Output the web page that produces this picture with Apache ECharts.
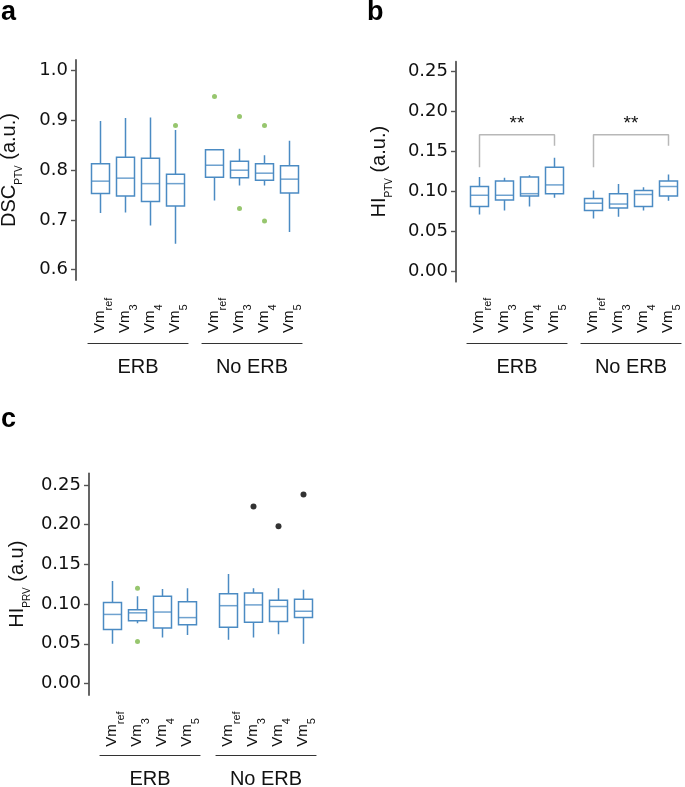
<!DOCTYPE html>
<html><head><meta charset="utf-8">
<script src="https://cdn.jsdelivr.net/npm/echarts@6/dist/echarts.min.js"></script>
<style>html,body{margin:0;padding:0;background:#fff}#c{width:685px;height:787px}</style>
</head><body><div id="c"></div>
<script>
// ---------- data ----------
const methods = ['Vm_ref', 'Vm_3', 'Vm_4', 'Vm_5'];
const groups = ['ERB', 'No ERB'];
const dscTicks = [0.6, 0.7, 0.8, 0.9, 1.0];
const hiTicks = [0.00, 0.05, 0.10, 0.15, 0.20, 0.25];

// box values: [min, Q1, median, Q3, max]
const dscErb = [[0.714, 0.753, 0.778, 0.813, 0.899], [0.715, 0.748, 0.784, 0.826, 0.905], [0.689, 0.737, 0.773, 0.824, 0.906], [0.652, 0.728, 0.773, 0.792, 0.881]];
const dscNoErb = [[0.739, 0.786, 0.810, 0.841, 0.841], [0.769, 0.785, 0.800, 0.818, 0.843], [0.769, 0.780, 0.794, 0.813, 0.830], [0.676, 0.754, 0.782, 0.809, 0.859]];
const dscErbOut = [[3, 0.890]];
const dscNoErbOut = [[0, 0.948], [1, 0.908], [1, 0.723], [2, 0.890], [2, 0.698]];

const hiPtvErb = [[0.071, 0.081, 0.095, 0.106, 0.118], [0.076, 0.089, 0.095, 0.113, 0.117], [0.081, 0.094, 0.097, 0.118, 0.120], [0.092, 0.097, 0.108, 0.130, 0.142]];
const hiPtvNoErb = [[0.066, 0.076, 0.085, 0.091, 0.101], [0.068, 0.079, 0.084, 0.097, 0.109], [0.076, 0.081, 0.096, 0.101, 0.105], [0.088, 0.094, 0.106, 0.113, 0.121]];
// significance bracket: [left leg bottom, bar height, right leg bottom]
const hiPtvBrackets = [[0.130, 0.171, 0.157], [0.130, 0.171, 0.157]];
const sigLabel = '**';

const hiPrvErb = [[0.050, 0.068, 0.087, 0.102, 0.129], [0.076, 0.079, 0.089, 0.093, 0.110], [0.058, 0.070, 0.090, 0.110, 0.119], [0.061, 0.074, 0.083, 0.103, 0.120]];
const hiPrvNoErb = [[0.055, 0.071, 0.098, 0.113, 0.138], [0.058, 0.077, 0.099, 0.114, 0.120], [0.062, 0.078, 0.097, 0.105, 0.120], [0.050, 0.083, 0.091, 0.106, 0.118]];
const hiPrvErbOut = [[1, 0.120], [1, 0.053]];
const hiPrvNoErbOut = [[1, 0.223], [2, 0.198], [3, 0.238]];

// ---------- styles ----------
const ARIAL = '"Liberation Sans", Arial, Helvetica, sans-serif';
const DEJA = '"DejaVu Sans", "Liberation Sans", sans-serif';
const BLUE = '#4b8bc3';
const GREEN = '#7db84a';
const AXIS = '#555';

const panels = [
  { top: 60, height: 220, min: 0.5793, max: 1.0215, ticks: dscTicks, dec: 1, axisX: 76, lefts: [88, 202],
    underline: 343.3, labelBottom: 333, nameGap: 54, groupGap: 14,
    title: '{t|DSC}{s|PTV}{t| (a.u.)}', data: [dscErb, dscNoErb], out: [dscErbOut, dscNoErbOut], black: [[], []], brackets: null },
  { top: 61.7, height: 220, min: -0.01342, max: 0.26254, ticks: hiTicks, dec: 2, axisX: 456, lefts: [467, 581],
    underline: 343.3, labelBottom: 333, nameGap: 64, groupGap: 14,
    title: '{t|HI}{s|PTV}{t| (a.u.)}', data: [hiPtvErb, hiPtvNoErb], out: [[], []], black: [[], []], brackets: hiPtvBrackets },
  { top: 473.3, height: 221.7, min: -0.01448, max: 0.26474, ticks: hiTicks, dec: 2, axisX: 89, lefts: [100, 216],
    underline: 755.7, labelBottom: 746.7, nameGap: 59, groupGap: 14,
    title: '{t|HI}{s|PRV}{t| (a.u)}', data: [hiPrvErb, hiPrvNoErb], out: [hiPrvErbOut, []], black: [[], hiPrvNoErbOut], brackets: null }
];

const grid = [], xAxis = [], yAxis = [], series = [];
let gi = 0;
panels.forEach(p => {
  for (let g = 0; g < 2; g++) {
    grid.push({ left: p.lefts[g], width: 100, top: p.top, height: p.height, containLabel: false, outerBoundsMode: 'none' });
    xAxis.push({
      type: 'category', gridIndex: gi, data: methods, position: 'bottom',
      offset: p.underline - (p.top + p.height),
      axisLine: { show: true, onZero: false, lineStyle: { color: '#333', width: 1.2 } },
      axisTick: { show: false },
      splitLine: { show: false },
      axisLabel: {
        rotate: 90, align: 'left', margin: -(p.underline - p.labelBottom), interval: 0,
        formatter: v => { const s = v.split('_'); return '{v|' + s[0] + '}{s|' + s[1] + '}'; },
        rich: {
          v: { fontSize: 15, fontFamily: ARIAL, color: '#111', lineHeight: 16, verticalAlign: 'top' },
          s: { fontSize: 11, fontFamily: ARIAL, color: '#111', lineHeight: 11, padding: [11, 0, 0, 0], verticalAlign: 'top' }
        }
      },
      name: groups[g], nameLocation: 'middle', nameGap: p.groupGap,
      nameTextStyle: { fontSize: 20, fontFamily: ARIAL, color: '#111' }
    });
    if (g === 0) {
      yAxis.push({
        type: 'value', gridIndex: gi, min: p.min, max: p.max, offset: p.lefts[0] - p.axisX,
        axisLine: { show: true, onZero: false, lineStyle: { color: AXIS, width: 1.8 } },
        axisTick: { show: true, length: 5, customValues: p.ticks, lineStyle: { color: AXIS, width: 1.4 } },
        axisLabel: { customValues: p.ticks, formatter: v => v.toFixed(p.dec), fontSize: 18, fontFamily: DEJA, color: '#111', margin: 8 },
        splitLine: { show: false },
        name: p.title, nameLocation: 'middle', nameRotate: 90, nameGap: p.nameGap,
        nameTextStyle: {
          rich: {
            t: { fontSize: 20, fontFamily: ARIAL, color: '#111', lineHeight: 23, verticalAlign: 'top' },
            s: { fontSize: 10, fontFamily: ARIAL, color: '#111', lineHeight: 10, padding: [15, 0, 0, 0], verticalAlign: 'top' }
          }
        }
      });
    } else {
      yAxis.push({ type: 'value', gridIndex: gi, min: p.min, max: p.max, show: false, splitLine: { show: false } });
    }
    const d = p.data[g];
    series.push({
      type: 'candlestick', xAxisIndex: gi, yAxisIndex: gi, barWidth: 19, silent: true,
      data: d.map(r => [r[1], r[3], r[0], r[4]]),
      itemStyle: { color: '#fff', color0: '#fff', borderColor: BLUE, borderColor0: BLUE, borderWidth: 1.5 }
    });
    series.push({
      type: 'scatter', xAxisIndex: gi, yAxisIndex: gi, silent: true, symbol: 'rect', symbolSize: [19, 1.5],
      data: d.map((r, i) => [i, r[2]]), itemStyle: { color: BLUE }, z: 5
    });
    if (p.out[g].length) series.push({
      type: 'scatter', xAxisIndex: gi, yAxisIndex: gi, silent: true, symbolSize: 5,
      data: p.out[g], itemStyle: { color: GREEN }, z: 6
    });
    if (p.black[g].length) series.push({
      type: 'scatter', xAxisIndex: gi, yAxisIndex: gi, silent: true, symbolSize: 6,
      data: p.black[g], itemStyle: { color: '#000' }, z: 6
    });
    if (p.brackets) {
      const b = p.brackets[g];
      series.push({
        type: 'line', xAxisIndex: gi, yAxisIndex: gi, silent: true, symbol: 'none',
        data: [[0, b[0]], [0, b[1]], [3, b[1]], [3, b[2]]],
        lineStyle: { color: '#b8b8b8', width: 1.5 },
        markLine: {
          silent: true, symbol: 'none', lineStyle: { color: 'rgba(0,0,0,0)', width: 0, opacity: 1 },
          label: { show: true, opacity: 1, position: 'insideMiddleTop', formatter: sigLabel, fontSize: 19, fontFamily: ARIAL, color: '#111', distance: 1 },
          data: [[{ coord: [0, b[1]] }, { coord: [3, b[1]] }]]
        }
      });
    }
    gi++;
  }
});

const tStyle = { fontSize: 27, fontWeight: 'bold', fontFamily: ARIAL, color: '#000' };
const option = {
  animation: false,
  backgroundColor: '#fff',
  title: [
    { text: 'a', left: 1, top: -1, padding: 0, textStyle: tStyle },
    { text: 'b', left: 367, top: -0.5, padding: 0, textStyle: tStyle },
    { text: 'c', left: 1, top: 406, padding: 0, textStyle: tStyle }
  ],
  grid, xAxis, yAxis, series
};
const chart = echarts.init(document.getElementById('c'), null, { renderer: 'canvas' });
chart.setOption(option);
</script></body></html>
